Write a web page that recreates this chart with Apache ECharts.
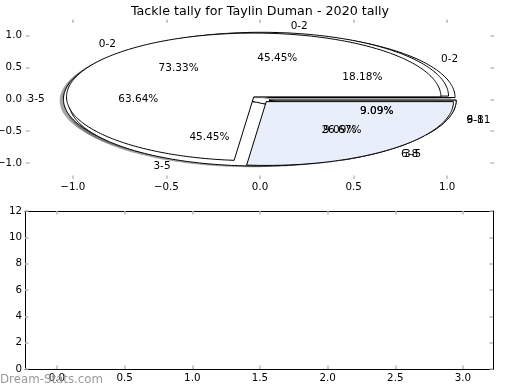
<!DOCTYPE html>
<html><head><meta charset="utf-8">
<script src="https://cdn.jsdelivr.net/npm/echarts@6/dist/echarts.min.js"></script>
<style>html,body{margin:0;padding:0;background:#fff}#c{width:520px;height:390px}</style>
</head><body><div id="c"></div>
<script>
// ---- data ----
const chartTitle = 'Tackle tally for Taylin Duman - 2020 tally';
const categories = ['0-2', '3-5', '6-8', '9-11'];
const pieALabels = ['0-2', '3-5'];
const pieAValues = [73.33, 26.67];
const pieBLabels = ['0-2', '3-5', '6-8'];
const pieBValues = [45.45, 45.45, 9.09];
const pieCLabels = ['0-2', '3-5', '6-8', '9-11'];
const pieCValues = [18.18, 63.64, 9.09, 9.09];
const pieXTicks = [-1.0, -0.5, 0.0, 0.5, 1.0];
const pieYTicks = [-1.0, -0.5, 0.0, 0.5, 1.0];
const barXTicks = [0.0, 0.5, 1.0, 1.5, 2.0, 2.5, 3.0];
const barYTicks = [0, 2, 4, 6, 8, 10, 12];
const watermark = 'Dream-Stats.com';

// ---- styles ----
const WHITE = '#ffffff', BLUE = '#e9effa';
const FONT = 'DejaVu Sans';
const EXPLODE = 0.05, SH_DX = -0.02, SH_DY = -0.02;
const pies = [ // drawing order
  { labels: pieCLabels, values: pieCValues, colors: [WHITE, WHITE, WHITE, WHITE] },
  { labels: pieBLabels, values: pieBValues, colors: [WHITE, WHITE, WHITE] },
  { labels: pieALabels, values: pieAValues, colors: [WHITE, BLUE] }
];

const wedges = [];
pies.forEach(function (p, pi) {
  const total = p.values.reduce(function (a, b) { return a + b; }, 0);
  let t = 0;
  p.values.forEach(function (v, i) {
    const t1 = t, t2 = t + 360 * v / total; t = t2;
    const mid = (t1 + t2) / 2 * Math.PI / 180;
    wedges.push({ pie: pi, label: p.labels[i], pct: (100 * v / total).toFixed(2) + '%',
      t1: t1, t2: t2, mid: mid,
      cx: EXPLODE * Math.cos(mid), cy: EXPLODE * Math.sin(mid), color: p.colors[i] });
  });
});

function wedgePoints(w, api, dx, dy) {
  const pts = [api.coord([w.cx + dx, w.cy + dy])];
  const n = Math.max(2, Math.ceil((w.t2 - w.t1) / 1));
  for (let k = 0; k <= n; k++) {
    const a = (w.t1 + (w.t2 - w.t1) * k / n) * Math.PI / 180;
    pts.push(api.coord([w.cx + dx + Math.cos(a), w.cy + dy + Math.sin(a)]));
  }
  return pts;
}
function shade(hex) {
  const r = parseInt(hex.slice(1, 3), 16), g = parseInt(hex.slice(3, 5), 16), b = parseInt(hex.slice(5, 7), 16);
  return 'rgba(' + Math.round(0.3 * r) + ',' + Math.round(0.3 * g) + ',' + Math.round(0.3 * b) + ',0.5)';
}
const fmt = function (v) { return Number(v).toFixed(1).replace('-', '\u2212'); };

const tickStyle = { show: true, inside: true, length: 3.5, lineStyle: { color: '#bbbbbb', width: 1.5 } };
function axis(type, grid, pos, min, max, ticks, labels, line, formatter, margin) {
  return {
    type: 'value', gridIndex: grid, position: pos, min: min, max: max,
    axisLine: { show: line, onZero: false, lineStyle: { color: '#000', width: 1 } },
    axisTick: Object.assign({ customValues: ticks }, tickStyle),
    splitLine: { show: false },
    axisLabel: { show: labels, customValues: ticks, formatter: formatter, color: '#000',
      fontFamily: FONT, fontSize: 10.3, margin: margin }
  };
}

const chart = echarts.init(document.getElementById('c'), null, { renderer: 'canvas' });
chart.setOption({
  animation: false,
  backgroundColor: '#fff',
  title: { text: chartTitle, left: 'center', top: 0,
    textStyle: { fontFamily: FONT, fontSize: 12.7, fontWeight: 'normal', color: '#000' } },
  grid: [
    { left: 26, right: 26, top: 19.5, height: 159.5, containLabel: false, outerBoundsMode: 'none' },
    { left: 25, right: 27, top: 211, height: 158, containLabel: false, outerBoundsMode: 'none' }
  ],
  xAxis: [
    axis('x', 0, 'bottom', -1.25, 1.25, pieXTicks, true, false, fmt, 3),
    axis('x', 0, 'top', -1.25, 1.25, pieXTicks, false, false, fmt, 3),
    axis('x', 1, 'bottom', -0.236, 3.222, barXTicks, true, true, fmt, 4),
    axis('x', 1, 'top', -0.236, 3.222, barXTicks, false, true, fmt, 4)
  ],
  yAxis: [
    axis('y', 0, 'left', -1.25, 1.25, pieYTicks, true, false, fmt, 4),
    axis('y', 0, 'right', -1.25, 1.25, pieYTicks, false, false, fmt, 4),
    axis('y', 1, 'left', 0, 12, barYTicks, true, true, function (v) { return String(v); }, 3),
    axis('y', 1, 'right', 0, 12, barYTicks, false, true, function (v) { return String(v); }, 3)
  ],
  graphic: [{ type: 'text', left: 0, top: 374, z: 100,
    style: { text: watermark, fill: '#9a9a9a', fontFamily: FONT, fontSize: 11.8 } }],
  series: [
    { type: 'custom', xAxisIndex: 0, yAxisIndex: 0, clip: false, z: 2, silent: true,
      data: wedges.map(function (w, i) { return [w.cx, w.cy, i]; }),
      renderItem: function (params, api) {
        const w = wedges[params.dataIndex];
        return { type: 'polygon', z2: params.dataIndex,
          shape: { points: wedgePoints(w, api, SH_DX, SH_DY) },
          style: { fill: shade(w.color), stroke: null } };
      } },
    { type: 'custom', xAxisIndex: 0, yAxisIndex: 0, clip: false, z: 3, silent: true,
      data: wedges.map(function (w, i) { return [w.cx, w.cy, i]; }),
      renderItem: function (params, api) {
        const w = wedges[params.dataIndex];
        return { type: 'polygon', z2: params.dataIndex,
          shape: { points: wedgePoints(w, api, 0, 0) },
          style: { fill: w.color, stroke: '#000', lineWidth: 1, lineJoin: 'round' } };
      } },
    { type: 'custom', xAxisIndex: 0, yAxisIndex: 0, clip: false, z: 4, silent: true,
      data: wedges.map(function (w, i) { return [w.cx, w.cy, i]; }),
      renderItem: function (params, api) {
        const w = wedges[params.dataIndex];
        const lx = w.cx + 1.1 * Math.cos(w.mid), ly = w.cy + 1.1 * Math.sin(w.mid);
        const px = w.cx + 0.6 * Math.cos(w.mid), py = w.cy + 0.6 * Math.sin(w.mid);
        const lp = api.coord([lx, ly]), pp = api.coord([px, py]);
        const ts = { fill: '#000', fontFamily: FONT, fontSize: 10.5, verticalAlign: 'middle' };
        return { type: 'group', children: [
          { type: 'text', x: lp[0], y: lp[1],
            style: Object.assign({ text: w.label, align: lx > 0 ? 'left' : 'right' }, ts) },
          { type: 'text', x: pp[0], y: pp[1],
            style: Object.assign({ text: w.pct, align: 'center' }, ts) }
        ] };
      } },
    { type: 'line', xAxisIndex: 2, yAxisIndex: 2, data: [] }
  ]
});
</script>
</body></html>
